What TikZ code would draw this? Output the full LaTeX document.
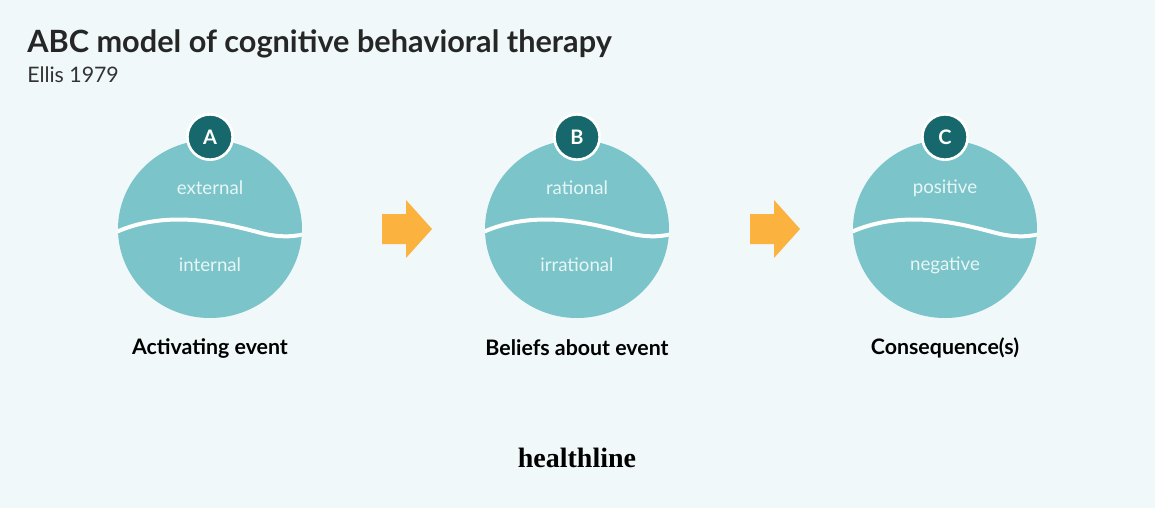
\documentclass[tikz,border=0pt]{standalone}
\usepackage{fontspec}
\setmainfont{Lato}
\newfontfamily\logofont{Liberation Serif}
\usetikzlibrary{positioning}
\definecolor{bg}{RGB}{240,248,250}
\definecolor{blob}{RGB}{122,196,202}
\definecolor{badge}{RGB}{22,104,108}
\definecolor{arr}{RGB}{251,178,62}
\definecolor{soft}{RGB}{232,246,246}
\tikzset{
  badgenode/.style={circle, fill=badge, draw=white, line width=2pt, minimum size=34, inner sep=0pt, text=white, font=\fontsize{15}{15}\selectfont\bfseries},
  part/.style={text=soft, font=\fontsize{14}{14}\selectfont},
  caption/.style={font=\fontsize{16}{16}\selectfont\bfseries},
  blobarrow/.style={fill=arr}
}
\newcommand{\blobpic}[6]{%
  % #1 x centre, #2 name, #3 letter, #4 upper, #5 lower, #6 caption
  \begin{scope}[shift={(#1,229)}]
    \fill[blob] (0,0) circle [x radius=92, y radius=89];
    \begin{scope}
      \clip (0,0) circle [x radius=92, y radius=89];
      \draw[white, line width=3pt] (-96,4) .. controls (-40,-22) and (20,-4) .. (55,5) .. controls (75,9) and (85,7) .. (96,5);
    \end{scope}
    \node[badgenode] (#2) at (0,-92) {#3};
    \node[part] (#2up) at (0,-41) {#4};
    \node[part] (#2lo) at (0,36) {#5};
    \node[caption] (#2cap) at (0,119) {#6};
  \end{scope}}
\begin{document}
\begin{tikzpicture}[x=0.75pt, y=-0.75pt]
  \fill[bg] (0,0) rectangle (1155,508);
  \useasboundingbox (0,0) rectangle (1155,508);
  % Title
  \node[anchor=base west, inner sep=0, font=\fontsize{23}{23}\selectfont\bfseries, text=black!85] (title) at (27,52) {ABC model of cognitive behavioral therapy};
  \node[anchor=base west, inner sep=0, font=\fontsize{16}{16}\selectfont, text=black!80] (sub) at (27,82) {Ellis 1979};
  % Stages
  \blobpic{210}{a}{A}{external}{internal}{Activating event}
  \blobpic{577}{b}{B}{rational}{irrational}{Beliefs about event}
  \blobpic{945}{c}{C}{positive}{negative}{Consequence(s)}
  % Arrows
  \foreach \ax in {382,750}
    \fill[blobarrow] (\ax,214) -- (\ax+24,214) -- (\ax+24,200) -- (\ax+50,229) -- (\ax+24,258) -- (\ax+24,244) -- (\ax,244) -- cycle;
  % Logo
  \node[font=\logofont\fontsize{21}{21}\selectfont\bfseries] (logo) at (577,458) {healthline};
\end{tikzpicture}
\end{document}
